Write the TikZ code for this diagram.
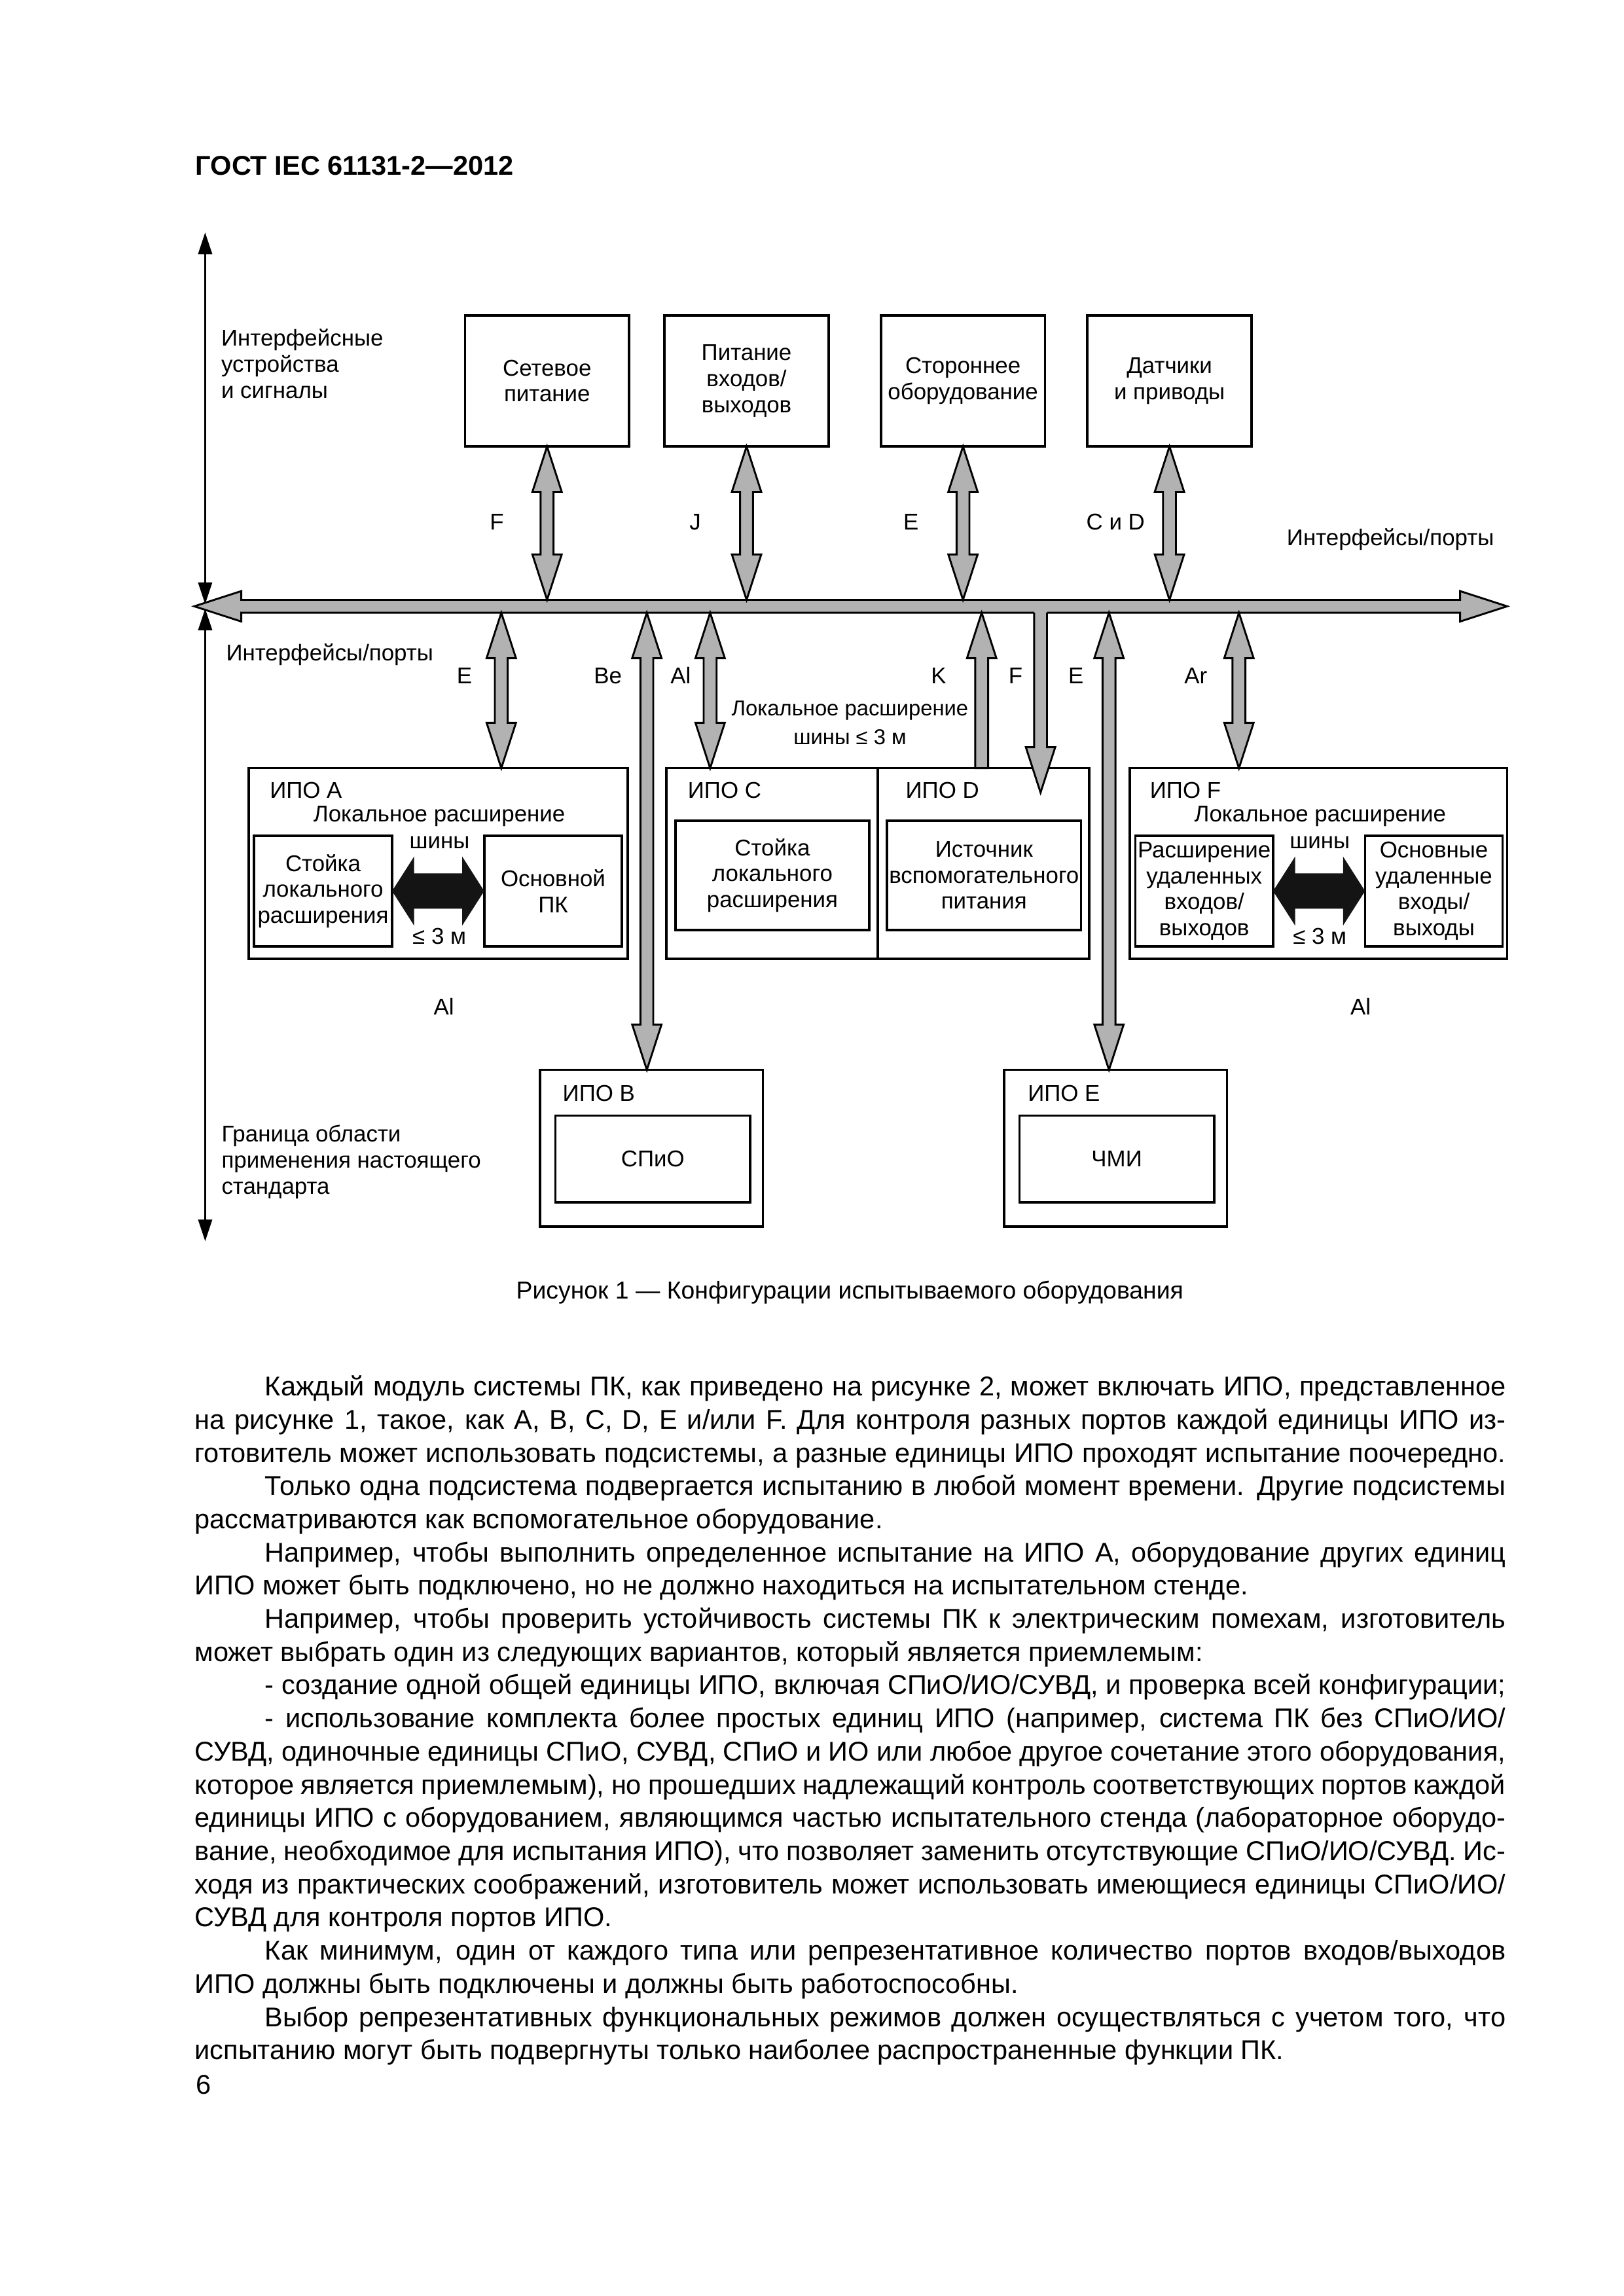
\documentclass[tikz,border=0pt]{standalone}
\usepackage{fontspec}
\setmainfont{Liberation Sans}
\usetikzlibrary{arrows.meta,fit,calc}

\definecolor{arrgray}{gray}{0.70}
\definecolor{arrblack}{gray}{0.08}

\newcommand\bwS{2.37pt}
\newcommand\bwH{5.4pt}
\newcommand\bwL{16.7pt}
\newcommand\WidI{160.48mm}
\newcommand\WidF{169.56mm}

% double vertical grey arrow: #1 top tip, #2 bottom tip
\newcommand\VDbl[2]{%
  \path[bigarrow] let \p1=#1, \p2=#2 in
  (\x1,\y1) -- (\x1+\bwH,\y1-\bwL) -- (\x1+\bwS,\y1-\bwL) -- (\x1+\bwS,\y2+\bwL)
  -- (\x1+\bwH,\y2+\bwL) -- (\x1,\y2) -- (\x1-\bwH,\y2+\bwL) -- (\x1-\bwS,\y2+\bwL)
  -- (\x1-\bwS,\y1-\bwL) -- (\x1-\bwH,\y1-\bwL) -- cycle;}
% single up arrow: #1 top tip, #2 flat bottom
\newcommand\VUp[2]{%
  \path[bigarrow] let \p1=#1, \p2=#2 in
  (\x1,\y1) -- (\x1+\bwH,\y1-\bwL) -- (\x1+\bwS,\y1-\bwL) -- (\x1+\bwS,\y2)
  -- (\x1-\bwS,\y2) -- (\x1-\bwS,\y1-\bwL) -- (\x1-\bwH,\y1-\bwL) -- cycle;}
% single down arrow from the bus: #1 flat top, #2 bottom tip
\newcommand\VDown[2]{%
  \path[fill=arrgray] let \p1=#1, \p2=#2 in
  (\x1-\bwS,\y1+3pt) -- (\x1+\bwS,\y1+3pt) -- (\x1+\bwS,\y2+\bwL) -- (\x1+\bwH,\y2+\bwL)
  -- (\x1,\y2) -- (\x1-\bwH,\y2+\bwL) -- (\x1-\bwS,\y2+\bwL) -- cycle;
  \path[draw,line width=0.7pt,line join=miter] let \p1=#1, \p2=#2 in
  (\x1-\bwS,\y1) -- (\x1-\bwS,\y2+\bwL) -- (\x1-\bwH,\y2+\bwL) -- (\x1,\y2)
  -- (\x1+\bwH,\y2+\bwL) -- (\x1+\bwS,\y2+\bwL) -- (\x1+\bwS,\y1);}
% black horizontal double arrow between two boxes
\newcommand\HBlk[2]{%
  \path[fill=arrblack] let \p1=#1, \p2=#2 in
  (\x1,\y1) -- (\x1+8.1pt,\y1+12.7pt) -- (\x1+8.1pt,\y1+6.5pt) -- (\x2-8.1pt,\y1+6.5pt)
  -- (\x2-8.1pt,\y1+12.7pt) -- (\x2,\y1) -- (\x2-8.1pt,\y1-12.7pt) -- (\x2-8.1pt,\y1-6.5pt)
  -- (\x1+8.1pt,\y1-6.5pt) -- (\x1+8.1pt,\y1-12.7pt) -- cycle;}

\newcommand\JLine[4]{\node[btxt] (#1) at (#2) {\makebox[#3][s]{#4}};}
\newcommand\LLine[3]{\node[btxt] (#1) at (#2) {#3};}

\tikzset{
  frame/.style={draw, line width=0.85pt, inner sep=0pt, outer sep=0pt},
  dtxt/.style={font=\fontsize{8.4}{9.56}\selectfont, inner sep=0pt},
  stxt/.style={font=\fontsize{7.9}{9.5}\selectfont, inner sep=0pt},
  btxt/.style={font=\fontsize{10}{12.2}\selectfont, inner sep=0pt, anchor=base west},
  bigarrow/.style={draw, line width=0.7pt, fill=arrgray, line join=miter},
  thinarrow/.style={line width=0.65pt, {Triangle[length=2.8mm,width=1.8mm]}-{Triangle[length=2.8mm,width=1.8mm]}},
}

\begin{document}
\begin{tikzpicture}[x=0.19039mm,y=-0.19039mm]
\useasboundingbox (0,0) rectangle (1103,1560.2);

% title
\node[anchor=base west, inner sep=0pt, font=\bfseries\fontsize{10}{12}\selectfont] (title) at (132.5,119) {ГОСТ IEC 61131-2—2012};

% left scale arrows
\coordinate (ltop) at (139.4,158);
\coordinate (lmid1) at (139.4,410.5);
\coordinate (lmid2) at (139.4,413.6);
\coordinate (lbot) at (139.4,843.4);
\draw[thinarrow] (ltop) -- (lmid1);
\draw[thinarrow] (lmid2) -- (lbot);

\node[dtxt, align=left, anchor=west] (lblIfs) at (150,247.2) {Интерфейсные\\устройства\\и сигналы};
\node[dtxt, anchor=base west] (lblPortsL) at (153.3,449) {Интерфейсы/порты};
\node[dtxt, align=left, anchor=west] (lblBound) at (150.2,789.5) {Граница области\\применения настоящего\\стандарта};

% top boxes
\node[frame, fit={(316,214.4)(427.4,303.4)}] (setb) {};
\node[dtxt, align=center] (setbT) at (setb.center) {Сетевое\\питание};
\node[frame, fit={(451.5,214.4)(563,303.4)}] (pitb) {};
\node[dtxt, align=center] (pitbT) at (pitb.center) {Питание\\входов/\\выходов};
\node[frame, fit={(598.6,214.4)(710,303.4)}] (storb) {};
\node[dtxt, align=center] (storbT) at (storb.center) {Стороннее\\оборудование};
\node[frame, fit={(738.8,214.4)(850.4,303.4)}] (datb) {};
\node[dtxt, align=center] (datbT) at (datb.center) {Датчики\\и приводы};

% bus
\coordinate (busL) at (132,412);
\coordinate (busR) at (1024,412);
\coordinate (bustop) at (0,407.6);
\coordinate (busbot) at (0,416.4);
\path[bigarrow] let \p1=(busL), \p2=(busR) in
  (\x1,\y1) -- (\x1+17.3pt,\y1+5.6pt) -- (\x1+17.3pt,\y1+\bwS) -- (\x2-17.3pt,\y1+\bwS)
  -- (\x2-17.3pt,\y1+5.6pt) -- (\x2,\y1) -- (\x2-17.3pt,\y1-5.6pt) -- (\x2-17.3pt,\y1-\bwS)
  -- (\x1+17.3pt,\y1-\bwS) -- (\x1+17.3pt,\y1-5.6pt) -- cycle;

% top arrows
\VDbl{(setb.south)}{(setb.south |- bustop)}
\VDbl{(pitb.south)}{(pitb.south |- bustop)}
\VDbl{(storb.south)}{(storb.south |- bustop)}
\VDbl{(datb.south)}{(datb.south |- bustop)}

\node[dtxt, anchor=base] (lF1) at (337.6,360) {F};
\node[dtxt, anchor=base] (lJ) at (472.4,360) {J};
\node[dtxt, anchor=base] (lE1) at (619,360) {E};
\node[dtxt, anchor=base] (lCD) at (758,360) {C и D};
\node[dtxt, anchor=base west] (lblPortsR) at (874,370.5) {Интерфейсы/порты};

% lower boxes
\node[frame, fit={(169,522)(426.5,651.5)}] (ipoA) {};
\node[frame, fit={(452.8,522)(740,651.5)}] (ipoCD) {};
\draw[line width=0.85pt] (ipoCD.north) -- (ipoCD.south);
\node[frame, fit={(767.6,522)(1024,651.5)}] (ipoF) {};
\node[frame, fit={(367,727)(518.4,833.4)}] (ipoB) {};
\node[frame, fit={(682.3,727)(833.6,833.4)}] (ipoE) {};

% inner boxes
\node[frame, fit={(172.6,568)(266.4,643)}] (inA1) {};
\node[dtxt, align=center] (inA1T) at (inA1.center) {Стойка\\локального\\расширения};
\node[frame, fit={(329,568)(422.6,643)}] (inA2) {};
\node[dtxt, align=center] (inA2T) at (inA2.center) {Основной\\ПК};
\node[frame, fit={(459,557.7)(590.6,632)}] (inC) {};
\node[dtxt, align=center] (inCT) at (inC.center) {Стойка\\локального\\расширения};
\node[frame, fit={(602.7,557.7)(734.5,632)}] (inD) {};
\node[dtxt, align=center] (inDT) at (inD.center) {Источник\\вспомогательного\\питания};
\node[frame, fit={(771.4,568)(865,643)}] (inF1) {};
\node[dtxt, align=center] (inF1T) at (inF1.center) {Расширение\\удаленных\\входов/\\выходов};
\node[frame, fit={(927.5,568)(1021,643)}] (inF2) {};
\node[dtxt, align=center] (inF2T) at (inF2.center) {Основные\\удаленные\\входы/\\выходы};
\node[frame, fit={(377.4,758)(509.7,817)}] (inB) {};
\node[dtxt] (inBT) at (inB.center) {СПиО};
\node[frame, fit={(692.6,758)(825,817)}] (inE) {};
\node[dtxt] (inET) at (inE.center) {ЧМИ};

\HBlk{(inA1.east)}{(inA2.west)}
\HBlk{(inF1.east)}{(inF2.west)}

% box labels
\node[dtxt, anchor=base west] (tA) at (183,542.5) {ИПО A};
\node[dtxt, anchor=base west] (tC) at (467,542.5) {ИПО C};
\node[dtxt, anchor=base west] (tD) at (615,542.5) {ИПО D};
\node[dtxt, anchor=base west] (tF) at (781,542.5) {ИПО F};
\node[dtxt, anchor=base west] (tB) at (382,748.3) {ИПО B};
\node[dtxt, anchor=base west] (tE) at (698,748.3) {ИПО E};

\node[dtxt, anchor=base] (locA) at (298.5,558.5) {Локальное расширение};
\node[dtxt, anchor=base] (shA) at (298.7,576.8) {шины};
\node[dtxt, anchor=base] (lenA) at (298.5,641.5) {≤ 3 м};
\node[dtxt, anchor=base] (locF) at (897,558.5) {Локальное расширение};
\node[dtxt, anchor=base] (shF) at (896.7,576.8) {шины};
\node[dtxt, anchor=base] (lenF) at (896.7,641.5) {≤ 3 м};
\node[stxt, anchor=base] (locC) at (577.5,486.5) {Локальное расширение};
\node[stxt, anchor=base] (shC) at (577.5,506) {шины ≤ 3 м};
\node[dtxt, anchor=base] (alA) at (301.6,689.5) {Al};
\node[dtxt, anchor=base] (alF) at (924.5,689.5) {Al};

% lower arrows
\coordinate (pE1) at (340.6,0);
\coordinate (pBe) at (439.5,0);
\coordinate (pAl) at (482.5,0);
\coordinate (pK) at (667,0);
\coordinate (pF) at (707,0);
\coordinate (Ftip) at (707,538.6);
\coordinate (pE2) at (753.5,0);
\coordinate (pAr) at (841.8,0);
\VDbl{(pE1 |- busbot)}{(pE1 |- ipoA.north)}
\VDbl{(pBe |- busbot)}{(pBe |- ipoB.north)}
\VDbl{(pAl |- busbot)}{(pAl |- ipoCD.north)}
\VUp{(pK |- busbot)}{(pK |- ipoCD.north)}
\VDown{(pF |- busbot)}{(Ftip)}
\VDbl{(pE2 |- busbot)}{(pE2 |- ipoE.north)}
\VDbl{(pAr |- busbot)}{(pAr |- ipoF.north)}

\node[dtxt, anchor=base] (lE2) at (315.6,464.6) {E};
\node[dtxt, anchor=base] (lBe) at (413,464.6) {Be};
\node[dtxt, anchor=base] (lAl) at (462.5,464.6) {Al};
\node[dtxt, anchor=base] (lK) at (637.8,464.6) {K};
\node[dtxt, anchor=base] (lF2) at (690,464.6) {F};
\node[dtxt, anchor=base] (lE3) at (731,464.6) {E};
\node[dtxt, anchor=base] (lAr) at (812.5,464.6) {Ar};

% caption
\node[inner sep=0pt, anchor=base, font=\fontsize{9}{11}\selectfont] (cap) at (577.4,882.5) {Рисунок 1 — Конфигурации испытываемого оборудования};

% body text
\JLine{l1}{179.7,948.5}{\WidI}{Каждый модуль системы ПК, как приведено на рисунке 2, может включать ИПО, представленное}
\JLine{l2}{132,971.05}{\WidF}{на рисунке 1, такое, как A, B, C, D, E и/или F. Для контроля разных портов каждой единицы ИПО из-}
\JLine{l3}{132,993.6}{\WidF}{готовитель может использовать подсистемы, а разные единицы ИПО проходят испытание поочередно.}
\JLine{l4}{179.7,1016.15}{\WidI}{Только одна подсистема подвергается испытанию в любой момент времени. Другие подсистемы}
\LLine{l5}{132,1038.7}{рассматриваются как вспомогательное оборудование.}
\JLine{l6}{179.7,1061.25}{\WidI}{Например, чтобы выполнить определенное испытание на ИПО A, оборудование других единиц}
\LLine{l7}{132,1083.8}{ИПО может быть подключено, но не должно находиться на испытательном стенде.}
\JLine{l8}{179.7,1106.35}{\WidI}{Например, чтобы проверить устойчивость системы ПК к электрическим помехам, изготовитель}
\LLine{l9}{132,1128.9}{может выбрать один из следующих вариантов, который является приемлемым:}
\JLine{l10}{179.7,1151.45}{\WidI}{- создание одной общей единицы ИПО, включая СПиО/ИО/СУВД, и проверка всей конфигурации;}
\JLine{l11}{179.7,1174.0}{\WidI}{- использование комплекта более простых единиц ИПО (например, система ПК без СПиО/ИО/}
\JLine{l12}{132,1196.55}{\WidF}{СУВД, одиночные единицы СПиО, СУВД, СПиО и ИО или любое другое сочетание этого оборудования,}
\JLine{l13}{132,1219.1}{\WidF}{которое является приемлемым), но прошедших надлежащий контроль соответствующих портов каждой}
\JLine{l14}{132,1241.65}{\WidF}{единицы ИПО с оборудованием, являющимся частью испытательного стенда (лабораторное оборудо-}
\JLine{l15}{132,1264.2}{\WidF}{вание, необходимое для испытания ИПО), что позволяет заменить отсутствующие СПиО/ИО/СУВД. Ис-}
\JLine{l16}{132,1286.75}{\WidF}{ходя из практических соображений, изготовитель может использовать имеющиеся единицы СПиО/ИО/}
\LLine{l17}{132,1309.3}{СУВД для контроля портов ИПО.}
\JLine{l18}{179.7,1331.85}{\WidI}{Как минимум, один от каждого типа или репрезентативное количество портов входов/выходов}
\LLine{l19}{132,1354.4}{ИПО должны быть подключены и должны быть работоспособны.}
\JLine{l20}{179.7,1376.95}{\WidI}{Выбор репрезентативных функциональных режимов должен осуществляться с учетом того, что}
\LLine{l21}{132,1399.5}{испытанию могут быть подвергнуты только наиболее распространенные функции ПК.}
\LLine{l22}{133,1423}{6}

\end{tikzpicture}
\end{document}
